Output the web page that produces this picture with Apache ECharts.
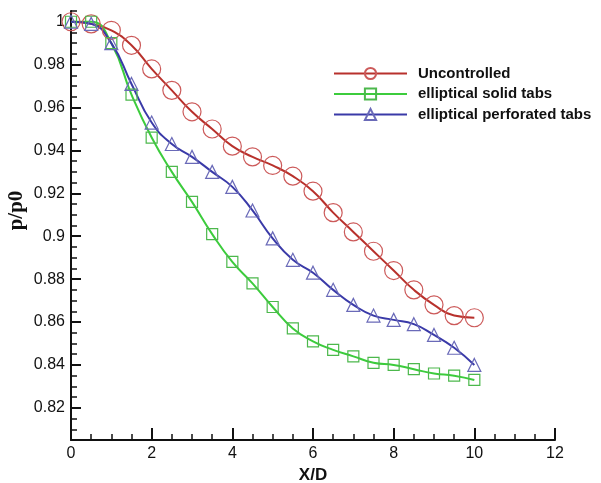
<!DOCTYPE html>
<html>
<head>
<meta charset="utf-8">
<script src="https://cdn.jsdelivr.net/npm/echarts@6/dist/echarts.min.js"></script>
<style>
  html, body { margin: 0; padding: 0; background: #fff; }
  #main { width: 601px; height: 483px; }
</style>
</head>
<body>
<div id="main"></div>
<script>
// X/D stations
var xd = [0, 0.5, 1, 1.5, 2, 2.5, 3, 3.5, 4, 4.5, 5, 5.5, 6, 6.5, 7, 7.5, 8, 8.5, 9, 9.5, 10];
// p/p0 for each case
var uncontrolled = [1.0, 0.999, 0.996, 0.989, 0.978, 0.968, 0.958, 0.950, 0.942, 0.937, 0.933, 0.928, 0.921, 0.911, 0.902, 0.893, 0.884, 0.875, 0.868, 0.863, 0.862];
var solidTabs = [1.0, 1.0, 0.990, 0.966, 0.946, 0.930, 0.916, 0.901, 0.888, 0.878, 0.867, 0.857, 0.851, 0.847, 0.844, 0.841, 0.840, 0.838, 0.836, 0.835, 0.833];
var perforatedTabs = [1.0, 0.999, 0.990, 0.971, 0.953, 0.943, 0.937, 0.930, 0.923, 0.912, 0.899, 0.889, 0.883, 0.875, 0.868, 0.863, 0.861, 0.859, 0.854, 0.848, 0.840];
// y axis ticks
var yMajor = [0.82, 0.84, 0.86, 0.88, 0.9, 0.92, 0.94, 0.96, 0.98, 1.0];
var yMinor = [0.805, 0.81, 0.815, 0.825, 0.83, 0.835, 0.845, 0.85, 0.855, 0.865, 0.87, 0.875,
  0.885, 0.89, 0.895, 0.905, 0.91, 0.915, 0.925, 0.93, 0.935, 0.945, 0.95, 0.955,
  0.965, 0.97, 0.975, 0.985, 0.99, 0.995, 1.005];

function pairs(ys) {
  return xd.map(function (x, i) { return [x, ys[i]]; });
}

var chart = echarts.init(document.getElementById("main"));

function makeSeries(name, data, lineColor, markColor, symbol, size) {
  return {
    name: name,
    type: "line",
    smooth: true,
    data: pairs(data),
    symbol: symbol,
    symbolSize: size,
    lineStyle: { color: lineColor, width: 2 },
    itemStyle: { color: "rgba(255,255,255,0)", borderColor: markColor, borderWidth: 1.2 },
    emphasis: { disabled: true },
    z: 3
  };
}

var option = {
  backgroundColor: "#fff",
  animation: false,
  grid: { left: 71, right: 46, top: 11, bottom: 43, containLabel: false, outerBoundsMode: "none" },
  legend: {
    orient: "vertical",
    left: 328,
    top: 61,
    itemWidth: 73,
    itemHeight: 14,
    itemGap: 5.5,
    textStyle: { fontFamily: "Liberation Sans, Arial", fontWeight: "bold", fontSize: 15, color: "#111", padding: [0, 0, 0, 6] },
    data: ["Uncontrolled", "elliptical solid tabs", "elliptical perforated tabs"]
  },
  xAxis: {
    type: "value",
    min: 0,
    max: 12,
    interval: 2,
    name: "X/D",
    nameLocation: "middle",
    nameGap: 22,
    nameTextStyle: { fontFamily: "Liberation Sans, Arial", fontWeight: "bold", fontSize: 17, color: "#111" },
    axisLine: { lineStyle: { color: "#111", width: 2 } },
    axisTick: { inside: true, length: 12, lineStyle: { color: "#111", width: 2 } },
    minorTick: { show: true, splitNumber: 4, length: 6, lineStyle: { color: "#111", width: 1.5 } },
    axisLabel: { margin: 6, fontFamily: "Liberation Sans, Arial", fontSize: 16, color: "#111" },
    splitLine: { show: false }
  },
  yAxis: [
    {
      type: "value",
      min: 0.805,
      max: 1.005,
      name: "p/p0",
      nameLocation: "middle",
      nameGap: 44,
      nameMoveOverlap: false,
      nameTextStyle: { fontFamily: "Liberation Serif, Times New Roman", fontWeight: "bold", fontSize: 21, color: "#111", padding: [0, 0, 0, 30] },
      axisLine: { show: true, lineStyle: { color: "#111", width: 2 } },
      axisTick: { show: true, inside: true, length: 10, customValues: yMajor, lineStyle: { color: "#111", width: 2 } },
      axisLabel: {
        margin: 6,
        customValues: yMajor,
        fontFamily: "Liberation Sans, Arial",
        fontSize: 16,
        color: "#111",
        formatter: function (v) { return String(+v.toFixed(2)); }
      },
      splitLine: { show: false }
    },
    {
      type: "value",
      min: 0.805,
      max: 1.005,
      position: "left",
      axisLine: { show: false },
      axisTick: { show: true, inside: true, length: 6, customValues: yMinor, lineStyle: { color: "#111", width: 1.5 } },
      axisLabel: { show: false },
      splitLine: { show: false }
    }
  ],
  series: [
    makeSeries("Uncontrolled", uncontrolled, "#b8312c", "#cc5a5a", "circle", 18),
    makeSeries("elliptical solid tabs", solidTabs, "#3ccc3c", "#4cb84c", "rect", 11),
    makeSeries("elliptical perforated tabs", perforatedTabs, "#3a3aa8", "#6a6ab8", "triangle", 13)
  ]
};

chart.setOption(option);
</script>
</body>
</html>
